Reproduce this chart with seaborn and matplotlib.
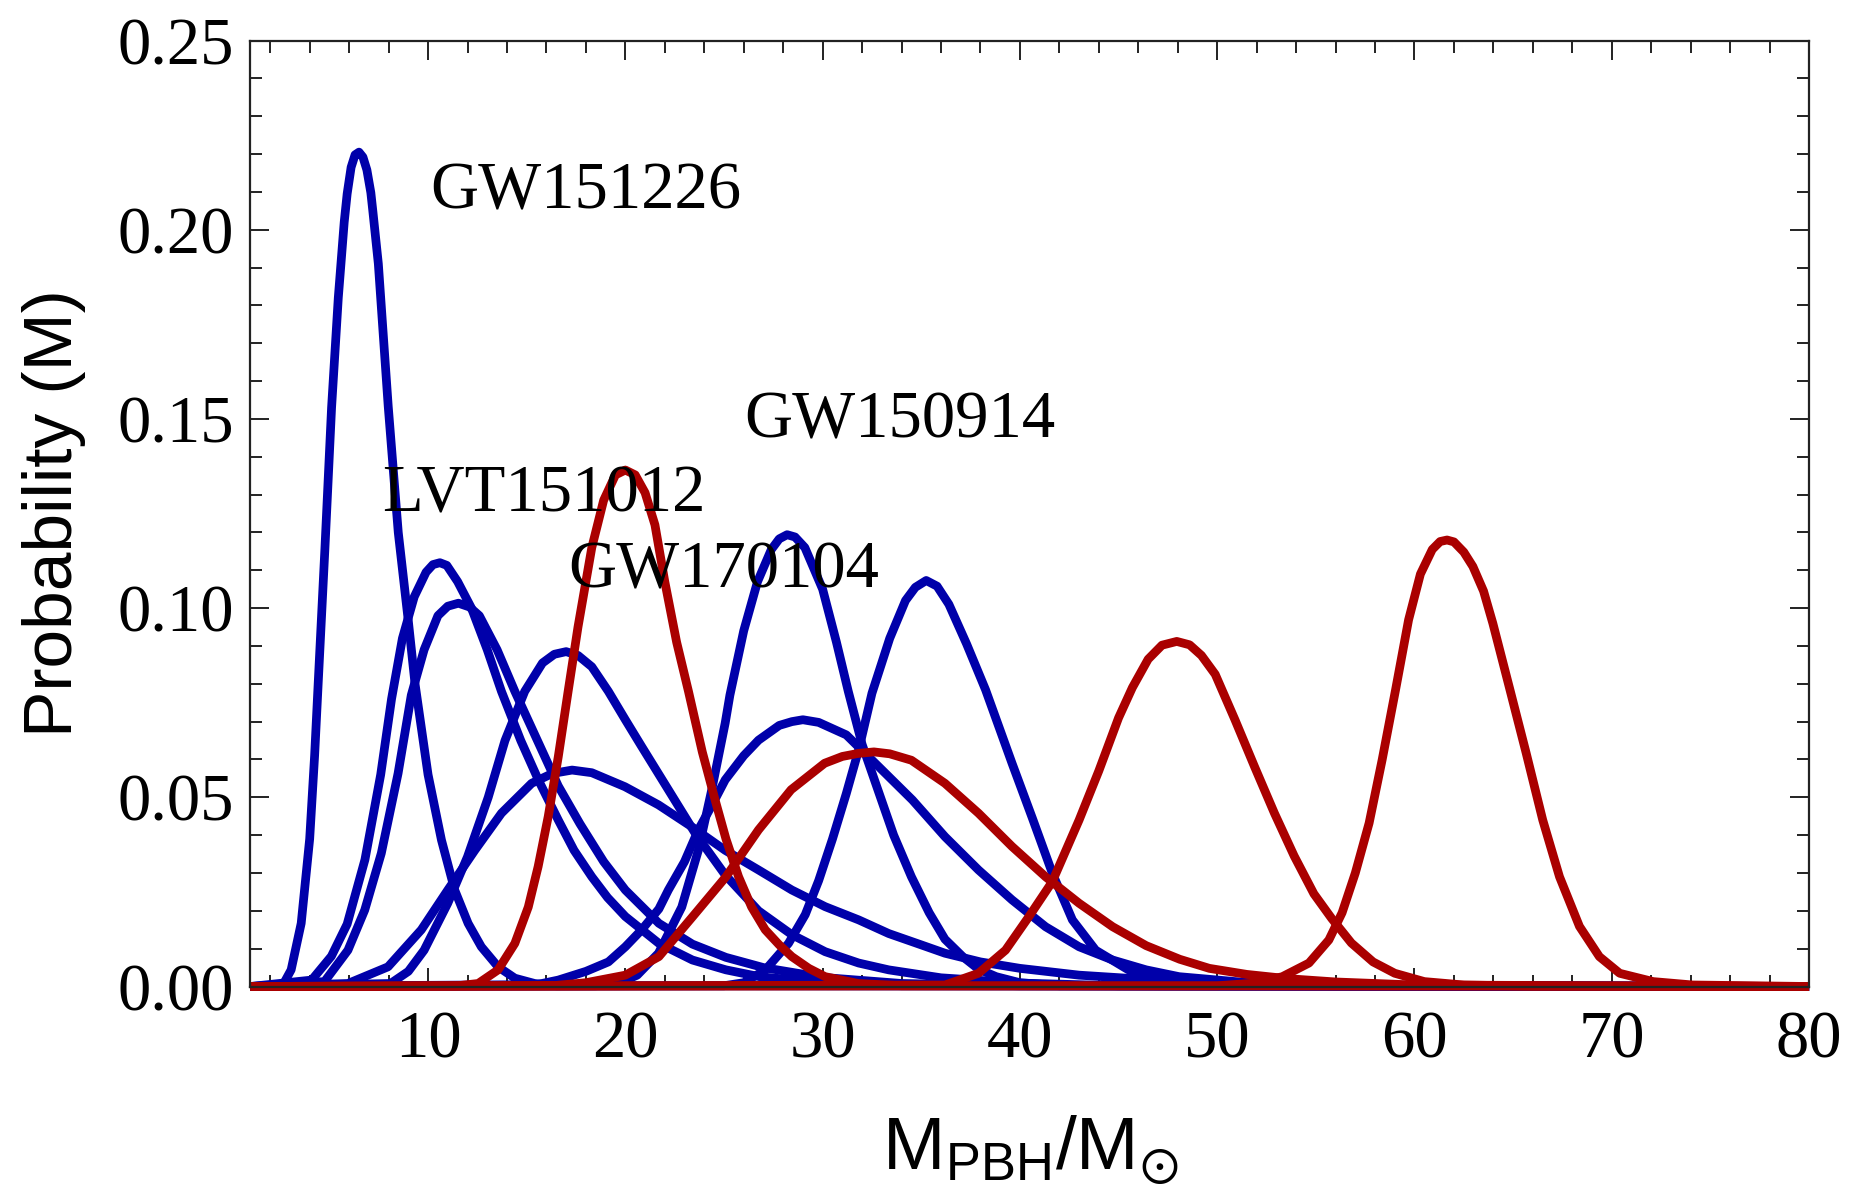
import matplotlib
matplotlib.use("Agg")
import matplotlib.pyplot as plt
from matplotlib.ticker import MultipleLocator, FormatStrFormatter
import seaborn as sns

# ---------------- data ----------------
# blue curves (component masses)
b1_x = [1, 2.6, 3.06, 3.57, 4.0, 4.25, 4.43, 4.77, 5.11, 5.45, 5.75, 5.9, 6.1, 6.3, 6.5, 6.7, 6.9, 7.1, 7.2, 7.48, 7.98, 8.49, 9.0, 9.34, 10.0, 10.68, 11.35, 12.03, 12.7, 13.55, 14.4, 15.4, 16.5, 80]
b1_y = [0, 0, 0.0044, 0.0167, 0.039, 0.061, 0.08, 0.1155, 0.153, 0.182, 0.202, 0.2095, 0.2165, 0.2198, 0.2205, 0.2192, 0.2158, 0.2098, 0.205, 0.191, 0.1534, 0.120, 0.0966, 0.080, 0.056, 0.0387, 0.0255, 0.0167, 0.0105, 0.0052, 0.0022, 0.0008, 0.0002, 0]

b2_x = [1, 4.1, 5.1, 5.9, 6.8, 7.6, 8.15, 8.7, 9.3, 9.9, 10.25, 10.6, 10.95, 11.5, 12.2, 13.0, 13.72, 14.7, 15.6, 16.6, 17.4, 18.3, 19.1, 20.0, 21.7, 23.4, 25.1, 26.8, 30.0, 34.0, 80]
b2_y = [0, 0.0017, 0.008, 0.0165, 0.0335, 0.056, 0.076, 0.092, 0.103, 0.1095, 0.1115, 0.112, 0.1113, 0.107, 0.100, 0.089, 0.078, 0.065, 0.0545, 0.044, 0.036, 0.029, 0.0235, 0.0185, 0.0114, 0.007, 0.0044, 0.0026, 0.001, 0.0003, 0]

b3_x = [1, 4.75, 5.94, 6.79, 7.63, 8.48, 9.15, 9.8, 10.5, 11.0, 11.54, 12.1, 12.6, 13.5, 14.4, 15.5, 16.6, 17.7, 18.9, 20.0, 21.7, 23.4, 25.1, 27.0, 30.0, 34.0, 40.0, 80]
b3_y = [0, 0.0013, 0.0096, 0.0202, 0.0352, 0.0563, 0.077, 0.089, 0.098, 0.1005, 0.1013, 0.1003, 0.098, 0.089, 0.078, 0.0655, 0.053, 0.043, 0.033, 0.0255, 0.0167, 0.0112, 0.0077, 0.0050, 0.0024, 0.0008, 0.0002, 0]

b4_x = [1, 8.1, 9.0, 9.8, 11.0, 12.0, 13.05, 13.9, 14.9, 15.8, 16.4, 17.0, 17.6, 18.3, 19.14, 20.0, 20.83, 22.18, 23.54, 25.06, 26.75, 28.44, 30.13, 31.83, 33.35, 36.0, 40.0, 45.0, 80]
b4_y = [0, 0.0008, 0.004, 0.0096, 0.022, 0.0343, 0.050, 0.065, 0.078, 0.0855, 0.0878, 0.0885, 0.0875, 0.0845, 0.078, 0.0705, 0.0634, 0.052, 0.0405, 0.0295, 0.020, 0.0137, 0.0092, 0.0062, 0.0044, 0.0023, 0.0009, 0.0002, 0]

b5_x = [1, 5.94, 7.97, 9.66, 11.0, 12.37, 13.72, 15.25, 16.3, 17.3, 18.3, 19.98, 21.68, 23.37, 25.06, 26.75, 28.44, 30.13, 31.83, 33.35, 35.0, 36.2, 38.0, 40.0, 43.0, 46.0, 50.0, 55.0, 60.0, 80]
b5_y = [0, 0.0008, 0.0052, 0.015, 0.0255, 0.036, 0.0458, 0.0537, 0.0563, 0.0572, 0.0565, 0.0528, 0.048, 0.0422, 0.036, 0.0308, 0.0255, 0.0211, 0.0176, 0.014, 0.011, 0.0088, 0.0065, 0.0048, 0.003, 0.002, 0.0012, 0.0006, 0.0003, 0]

b6_x = [1, 18.5, 19.64, 20.6, 21.68, 22.86, 23.7, 24.38, 25.06, 25.3, 26.0, 26.7, 27.4, 27.8, 28.2, 28.6, 29.1, 30.0, 30.7, 31.3, 32.0, 32.8, 33.6, 34.5, 35.4, 36.2, 37.1, 37.9, 38.8, 40.0, 42.0, 80]
b6_y = [0, 0.0002, 0.0008, 0.003, 0.0088, 0.021, 0.036, 0.052, 0.0696, 0.077, 0.094, 0.107, 0.1155, 0.1183, 0.1194, 0.1188, 0.116, 0.105, 0.091, 0.078, 0.064, 0.052, 0.040, 0.029, 0.0195, 0.0125, 0.0079, 0.0046, 0.0026, 0.001, 0.0002, 0]

b7_x = [1, 15.5, 16.6, 18.0, 19.14, 20.0, 20.83, 21.7, 22.18, 23.0, 23.7, 24.4, 25.06, 26.0, 26.75, 27.8, 28.44, 29.0, 29.8, 31.2, 32.86, 34.55, 36.2, 37.9, 39.6, 41.3, 43.0, 44.7, 46.4, 48.07, 52.0, 56.0, 80]
b7_y = [0, 0.0005, 0.0017, 0.004, 0.0065, 0.0105, 0.015, 0.0205, 0.0255, 0.033, 0.0414, 0.048, 0.0546, 0.061, 0.0651, 0.069, 0.0700, 0.0705, 0.0698, 0.0665, 0.058, 0.0493, 0.0396, 0.0308, 0.0229, 0.0158, 0.0105, 0.007, 0.0044, 0.0026, 0.0008, 0.0002, 0]

b8_x = [1, 25.0, 26.0, 27.1, 28.27, 29.12, 29.8, 30.5, 31.2, 31.85, 32.5, 33.4, 34.2, 34.7, 35.25, 35.8, 36.4, 37.3, 38.26, 39.6, 40.63, 41.64, 42.66, 43.84, 45.5, 47.2, 50.0, 80]
b8_y = [0, 0.0002, 0.001, 0.0044, 0.0114, 0.019, 0.028, 0.039, 0.051, 0.063, 0.0775, 0.092, 0.102, 0.1055, 0.1073, 0.1058, 0.101, 0.0905, 0.0784, 0.059, 0.0445, 0.030, 0.0176, 0.0096, 0.0044, 0.0017, 0.0004, 0]

# red curves (total masses)
r1_x = [1, 11.5, 12.54, 13.55, 14.4, 15.08, 15.58, 16.09, 16.6, 17.1, 17.6, 18.3, 18.9, 19.5, 20.0, 20.5, 21.0, 21.5, 22.0, 22.6, 23.2, 23.9, 24.55, 25.1, 25.74, 26.4, 27.09, 27.8, 28.44, 29.3, 30.13, 31.8, 34.0, 80]
r1_y = [0, 0.0002, 0.0008, 0.0044, 0.0114, 0.021, 0.0317, 0.0449, 0.0607, 0.078, 0.095, 0.116, 0.1285, 0.1352, 0.1365, 0.1352, 0.1305, 0.122, 0.107, 0.091, 0.078, 0.062, 0.0493, 0.039, 0.029, 0.021, 0.015, 0.011, 0.0079, 0.0048, 0.0026, 0.0008, 0.0002, 0]

r2_x = [1, 16.5, 18.0, 20.0, 21.7, 23.4, 25.1, 26.75, 28.4, 30.1, 31.0, 31.8, 32.6, 33.4, 34.5, 36.2, 37.9, 39.6, 41.3, 43.0, 44.7, 46.4, 48.1, 49.6, 51.5, 53.5, 56.0, 60.0, 80]
r2_y = [0, 0.0003, 0.001, 0.003, 0.0079, 0.0184, 0.029, 0.0414, 0.052, 0.059, 0.0608, 0.0616, 0.062, 0.0615, 0.0598, 0.0537, 0.0458, 0.037, 0.029, 0.022, 0.0158, 0.0108, 0.0072, 0.0048, 0.0032, 0.0021, 0.0012, 0.0004, 0]

r3_x = [1, 36.2, 37.9, 39.27, 40.46, 41.64, 43.0, 44.0, 45.0, 45.7, 46.5, 47.2, 47.95, 48.6, 49.2, 49.9, 50.9, 51.9, 52.9, 53.9, 54.9, 55.8, 56.8, 57.9, 59.0, 60.5, 62.5, 66.0, 80]
r3_y = [0, 0.0004, 0.0035, 0.0096, 0.0185, 0.0277, 0.044, 0.057, 0.071, 0.079, 0.0865, 0.0902, 0.0912, 0.0903, 0.0875, 0.0825, 0.0705, 0.058, 0.0458, 0.0345, 0.0245, 0.018, 0.0115, 0.0065, 0.0035, 0.0013, 0.0004, 0.0001, 0]

r4_x = [1, 50.0, 51.9, 53.3, 54.65, 55.66, 56.33, 57.0, 57.7, 58.36, 59.04, 59.7, 60.3, 60.9, 61.3, 61.65, 62.0, 62.5, 62.96, 63.5, 63.97, 64.81, 65.66, 66.5, 67.35, 68.36, 69.37, 70.4, 72.1, 74.1, 80]
r4_y = [0, 0.0002, 0.0009, 0.0026, 0.0062, 0.0123, 0.0195, 0.030, 0.0432, 0.0599, 0.0784, 0.0969, 0.109, 0.1155, 0.1176, 0.118, 0.1175, 0.1148, 0.111, 0.1045, 0.096, 0.079, 0.0617, 0.044, 0.029, 0.0159, 0.0079, 0.0035, 0.0013, 0.0004, 0]

blue_curves = [(b1_x, b1_y), (b2_x, b2_y), (b3_x, b3_y), (b4_x, b4_y),
               (b5_x, b5_y), (b6_x, b6_y), (b7_x, b7_y), (b8_x, b8_y)]
red_curves = [(r1_x, r1_y), (r2_x, r2_y), (r3_x, r3_y), (r4_x, r4_y)]

event_labels = ["GW151226", "LVT151012", "GW170104", "GW150914"]
label_x = [10.1, 7.65, 17.1, 26.05]
label_y = [0.2055, 0.1255, 0.1055, 0.145]

x_ticks = [10, 20, 30, 40, 50, 60, 70, 80]
y_ticks = [0.00, 0.05, 0.10, 0.15, 0.20, 0.25]

# ---------------- style ----------------
BLUE = "#0000aa"
RED = "#aa0000"
LW = 6.3

sns.set_theme(style="ticks")
plt.rcParams["font.family"] = ["Liberation Serif", "DejaVu Serif"]
plt.rcParams["mathtext.fontset"] = "dejavusans"

fig = plt.figure(figsize=(18.61, 11.85), dpi=100)
ax = fig.add_axes([0.1346, 0.1675, 0.8375, 0.7983])

for xs, ys in blue_curves:
    sns.lineplot(x=xs, y=ys, color=BLUE, linewidth=LW, sort=False,
                 estimator=None, ax=ax, clip_on=False,
                 solid_joinstyle="round", solid_capstyle="butt")
for xs, ys in red_curves:
    sns.lineplot(x=xs, y=ys, color=RED, linewidth=LW, sort=False,
                 estimator=None, ax=ax, clip_on=False,
                 solid_joinstyle="round", solid_capstyle="butt")

for t, lx, ly in zip(event_labels, label_x, label_y):
    ax.text(lx, ly, t, fontsize=48, ha="left", va="baseline", color="black",
            family=["Liberation Serif", "DejaVu Serif"])

ax.set_xlim(1, 80)
ax.set_ylim(0, 0.25)
ax.set_xticks(x_ticks)
ax.set_yticks(y_ticks)
ax.xaxis.set_minor_locator(MultipleLocator(2))
ax.yaxis.set_minor_locator(MultipleLocator(0.01))
ax.yaxis.set_major_formatter(FormatStrFormatter("%.2f"))

for s in ax.spines.values():
    s.set_visible(True)
    s.set_linewidth(1.6)
    s.set_color("#222222")

ax.tick_params(which="both", direction="in", top=True, right=True,
               bottom=True, left=True, color="#222222", width=1.4,
               labelsize=48, labelcolor="black")
ax.tick_params(which="major", length=13.5)
ax.tick_params(which="minor", length=8.5)
ax.tick_params(axis="y", which="major", pad=12)
ax.tick_params(axis="x", which="major", pad=17)

ax.set_ylabel("Probability (M)", fontsize=50,
              family=["Liberation Sans", "DejaVu Sans"], color="black")
ax.yaxis.set_label_coords(-0.1058, 0.5)

ax.set_xlabel(r"$\mathregular{M_{PBH}/M_{\odot}}$", fontsize=54,
              family=["Liberation Sans", "DejaVu Sans"], color="black")
ax.xaxis.set_label_coords(0.5, -0.193)
ax.xaxis.label.set_verticalalignment("baseline")

fig.savefig("out.png", dpi=100, facecolor="white")
